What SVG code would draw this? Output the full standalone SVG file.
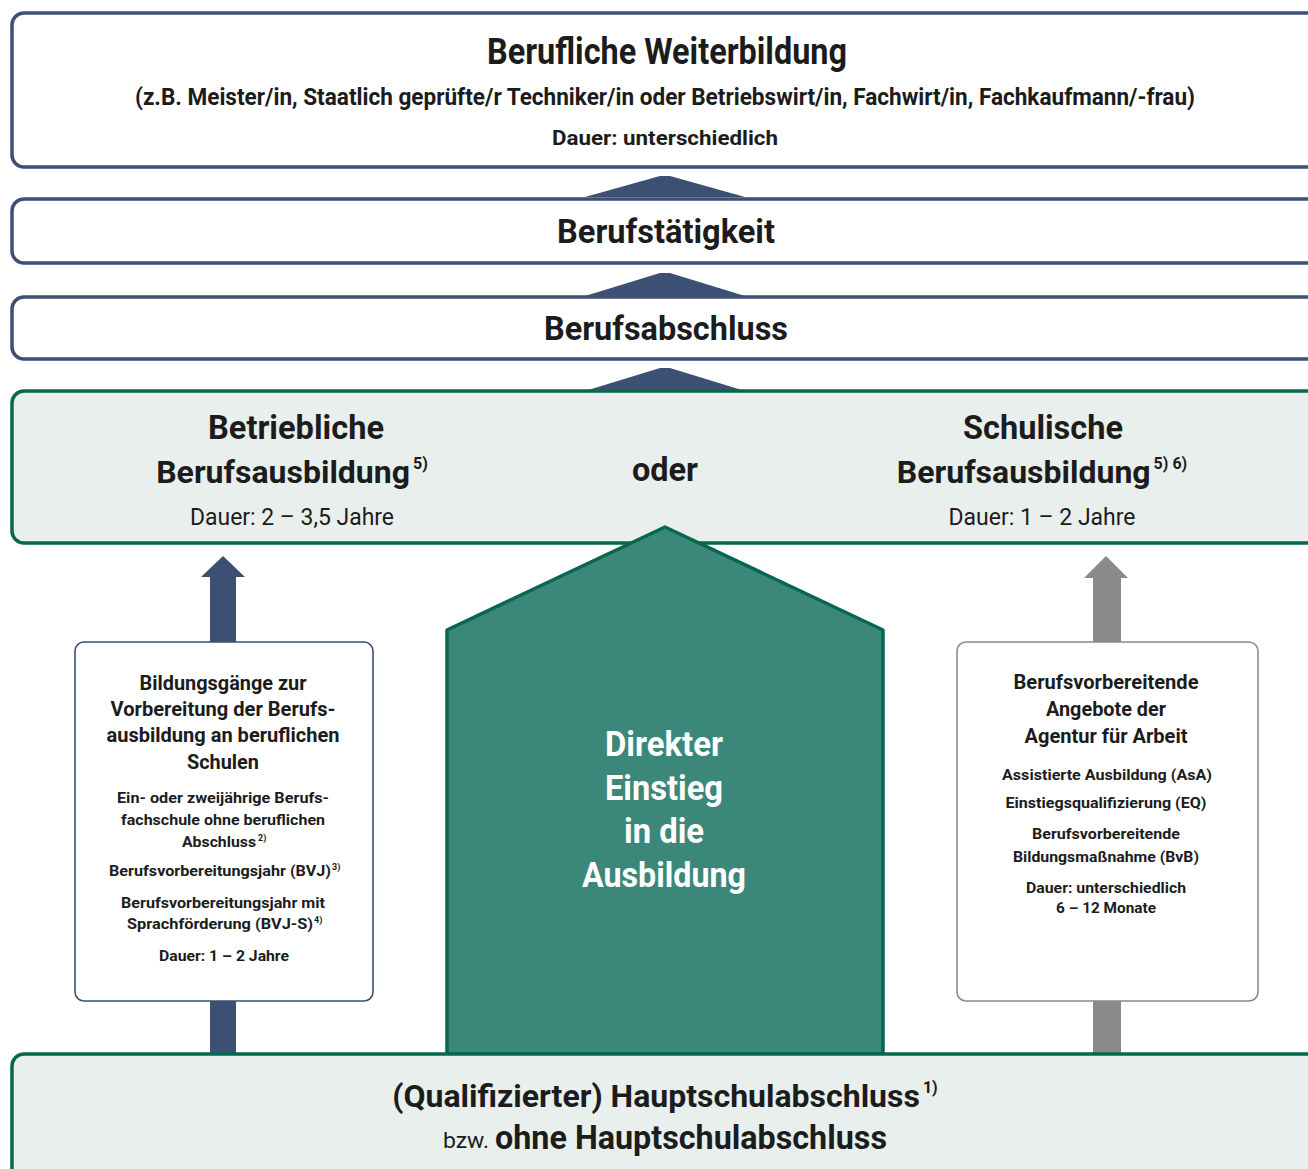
<svg xmlns="http://www.w3.org/2000/svg" width="1308" height="1169" viewBox="0 0 1308 1169">
<style>
.t{font-family:Roboto,"Liberation Sans",sans-serif;fill:#1c1c1c;text-anchor:middle}
.s{text-anchor:start}
.b{font-weight:bold}
.w{fill:#ffffff}
.navybox{fill:#ffffff;stroke:#3c5073;stroke-width:3.5}
.greenbox{fill:#e9efed;stroke:#07674f;stroke-width:3.5}
</style>
<rect width="1308" height="1169" fill="#ffffff"/>
<g id="connectors">
  <polygon points="585,197 660,176 670,176 745,197" fill="#3c5073"/>
  <polygon points="585,296 660,273 670,273 745,296" fill="#3c5073"/>
  <polygon points="585,391 660,368 670,368 745,391" fill="#3c5073"/>
  <polygon points="210,642 210,577 201,577 223,556 245,577 236,577 236,642" fill="#3c5073"/>
  <rect x="210" y="1001" width="26" height="53" fill="#3c5073"/>
  <polygon points="1093,642 1093,578 1084,578 1106,556 1128,578 1121,578 1121,642" fill="#8a8a8a"/>
  <rect x="1093" y="1001" width="28" height="53" fill="#8a8a8a"/>
</g>
<g id="weiterbildung">
  <rect class="navybox" x="12" y="13" width="1310" height="154" rx="12"/>
  <text class="t b" x="667" y="64" font-size="36" textLength="360" lengthAdjust="spacingAndGlyphs">Berufliche Weiterbildung</text>
  <text class="t b" x="665" y="105" font-size="23" textLength="1060" lengthAdjust="spacingAndGlyphs">(z.B. Meister/in, Staatlich geprüfte/r Techniker/in oder Betriebswirt/in, Fachwirt/in, Fachkaufmann/-frau)</text>
  <text class="t b" x="665" y="145" font-size="21" textLength="226" lengthAdjust="spacingAndGlyphs">Dauer: unterschiedlich</text>
</g>
<g id="berufstaetigkeit">
  <rect class="navybox" x="12" y="199" width="1310" height="64" rx="12"/>
  <text class="t b" x="666" y="243" font-size="34" textLength="218" lengthAdjust="spacingAndGlyphs">Berufstätigkeit</text>
</g>
<g id="berufsabschluss">
  <rect class="navybox" x="12" y="297" width="1310" height="62" rx="12"/>
  <text class="t b" x="666" y="340" font-size="34" textLength="244" lengthAdjust="spacingAndGlyphs">Berufsabschluss</text>
</g>
<g id="ausbildung">
  <rect class="greenbox" x="12" y="391" width="1310" height="152" rx="12"/>
  <text class="t b" x="296" y="439" font-size="33" textLength="176" lengthAdjust="spacingAndGlyphs">Betriebliche</text>
  <text class="t b" x="292" y="483" font-size="32">Berufsausbildung<tspan dx="3" dy="-14" font-size="16">5)</tspan></text>
  <text class="t" x="292" y="525" font-size="24" textLength="204" lengthAdjust="spacingAndGlyphs">Dauer: 2 – 3,5 Jahre</text>
  <text class="t b" x="665" y="481" font-size="33" textLength="66" lengthAdjust="spacingAndGlyphs">oder</text>
  <text class="t b" x="1043" y="439" font-size="33" textLength="160" lengthAdjust="spacingAndGlyphs">Schulische</text>
  <text class="t b" x="1042" y="483" font-size="32">Berufsausbildung<tspan dx="3" dy="-14" font-size="16">5) 6)</tspan></text>
  <text class="t" x="1042" y="525" font-size="24" textLength="187" lengthAdjust="spacingAndGlyphs">Dauer: 1 – 2 Jahre</text>
</g>
<g id="direkter-einstieg">
  <polygon points="665,527 883,630 883,1054 447,1054 447,630" fill="#3b887b" stroke="#07674f" stroke-width="3.5" stroke-linejoin="round"/>
  <text class="t b w" x="664" y="756" font-size="35" textLength="118" lengthAdjust="spacingAndGlyphs">Direkter</text>
  <text class="t b w" x="664" y="800" font-size="35" textLength="118" lengthAdjust="spacingAndGlyphs">Einstieg</text>
  <text class="t b w" x="664" y="843" font-size="35" textLength="80" lengthAdjust="spacingAndGlyphs">in die</text>
  <text class="t b w" x="664" y="887" font-size="35" textLength="164" lengthAdjust="spacingAndGlyphs">Ausbildung</text>
</g>
<g id="bildungsgaenge">
  <rect x="75" y="642" width="298" height="359" rx="9" fill="#ffffff" stroke="#3c5073" stroke-width="1.6"/>
  <text class="t b" x="223" y="690" font-size="21" textLength="167" lengthAdjust="spacingAndGlyphs">Bildungsgänge zur</text>
  <text class="t b" x="223" y="716" font-size="21" textLength="225" lengthAdjust="spacingAndGlyphs">Vorbereitung der Berufs-</text>
  <text class="t b" x="223" y="742" font-size="21" textLength="233" lengthAdjust="spacingAndGlyphs">ausbildung an beruflichen</text>
  <text class="t b" x="223" y="769" font-size="21" textLength="72" lengthAdjust="spacingAndGlyphs">Schulen</text>
  <text class="t b" x="223" y="803" font-size="15" textLength="212" lengthAdjust="spacingAndGlyphs">Ein- oder zweijährige Berufs-</text>
  <text class="t b" x="223" y="825" font-size="15" textLength="204" lengthAdjust="spacingAndGlyphs">fachschule ohne beruflichen</text>
  <text class="t b" x="219" y="847" font-size="15" textLength="74" lengthAdjust="spacingAndGlyphs">Abschluss</text>
  <text class="t b s" x="258" y="841" font-size="9">2)</text>
  <text class="t b" x="220" y="876" font-size="15" textLength="222" lengthAdjust="spacingAndGlyphs">Berufsvorbereitungsjahr (BVJ)</text>
  <text class="t b s" x="332" y="870" font-size="9">3)</text>
  <text class="t b" x="223" y="908" font-size="15" textLength="204" lengthAdjust="spacingAndGlyphs">Berufsvorbereitungsjahr mit</text>
  <text class="t b" x="220" y="929" font-size="15" textLength="186" lengthAdjust="spacingAndGlyphs">Sprachförderung (BVJ-S)</text>
  <text class="t b s" x="314" y="923" font-size="9">4)</text>
  <text class="t b" x="224" y="961" font-size="15" textLength="130" lengthAdjust="spacingAndGlyphs">Dauer: 1 – 2 Jahre</text>
</g>
<g id="agentur">
  <rect x="957" y="642" width="301" height="359" rx="9" fill="#ffffff" stroke="#8a8a8a" stroke-width="1.6"/>
  <text class="t b" x="1106" y="689" font-size="21" textLength="185" lengthAdjust="spacingAndGlyphs">Berufsvorbereitende</text>
  <text class="t b" x="1106" y="716" font-size="21" textLength="120" lengthAdjust="spacingAndGlyphs">Angebote der</text>
  <text class="t b" x="1106" y="743" font-size="21" textLength="163" lengthAdjust="spacingAndGlyphs">Agentur für Arbeit</text>
  <text class="t b" x="1107" y="780" font-size="15" textLength="210" lengthAdjust="spacingAndGlyphs">Assistierte Ausbildung (AsA)</text>
  <text class="t b" x="1106" y="808" font-size="15" textLength="201" lengthAdjust="spacingAndGlyphs">Einstiegsqualifizierung (EQ)</text>
  <text class="t b" x="1106" y="839" font-size="15" textLength="148" lengthAdjust="spacingAndGlyphs">Berufsvorbereitende</text>
  <text class="t b" x="1106" y="862" font-size="15" textLength="186" lengthAdjust="spacingAndGlyphs">Bildungsmaßnahme (BvB)</text>
  <text class="t b" x="1106" y="893" font-size="15" textLength="160" lengthAdjust="spacingAndGlyphs">Dauer: unterschiedlich</text>
  <text class="t b" x="1106" y="913" font-size="15" textLength="100" lengthAdjust="spacingAndGlyphs">6 – 12 Monate</text>
</g>
<g id="hauptschulabschluss">
  <rect class="greenbox" x="12" y="1054" width="1310" height="140" rx="12"/>
  <text class="t b" x="665" y="1107" font-size="32">(Qualifizierter) Hauptschulabschluss<tspan dx="3" dy="-14" font-size="16">1)</tspan></text>
  <text class="t" x="466" y="1148" font-size="22" textLength="46" lengthAdjust="spacingAndGlyphs">bzw.</text>
  <text class="t b" x="691" y="1149" font-size="33" textLength="392" lengthAdjust="spacingAndGlyphs">ohne Hauptschulabschluss</text>
</g>
</svg>
